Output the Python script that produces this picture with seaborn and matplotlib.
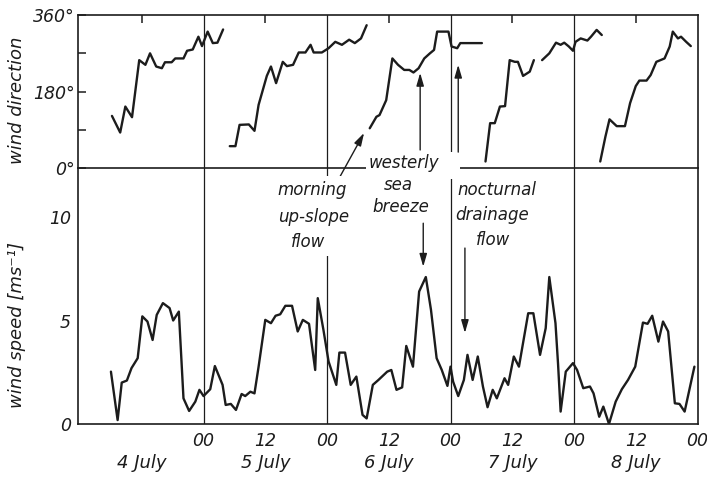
import numpy as np
import pandas as pd
import matplotlib
matplotlib.use("Agg")
import matplotlib.pyplot as plt
import seaborn as sns
from matplotlib.patches import FancyArrowPatch, Rectangle

# ---------------- data (time = hours since 4 July 00:00) ----------------
dirA_h = [6.2, 7.8, 8.8, 10.1, 11.5, 12.7, 13.6, 14.8, 15.9, 16.5, 17.8, 18.5, 20.1,
          20.8, 21.9, 23.0, 23.7, 24.8, 25.8, 26.7, 27.8]
dirA_deg = [123, 84, 145, 120, 254, 243, 270, 239, 235, 249, 249, 258, 258,
            276, 279, 309, 287, 321, 294, 295, 326]

dirB_h = [29.1, 30.2, 31.0, 32.8, 33.9, 34.7, 36.3, 37.1, 38.1, 39.4, 40.2, 41.4,
          42.5, 43.8, 44.8, 45.4, 47.0, 48.3, 49.6, 50.9, 52.3, 53.4, 54.6, 55.7]
dirB_deg = [52, 52, 102, 103, 88, 149, 217, 239, 200, 250, 240, 243,
            272, 272, 290, 272, 272, 282, 297, 290, 302, 294, 305, 336]

dirC_h = [56.3, 57.6, 58.2, 59.5, 60.7, 61.8, 63.0, 64.0, 64.8, 65.8, 66.9, 68.0,
          68.8, 69.4, 71.6, 72.2, 73.3, 73.9, 78.1]
dirC_deg = [94, 121, 125, 160, 258, 243, 231, 231, 225, 235, 258, 270,
            278, 321, 321, 286, 282, 294, 294]

dirD_h = [78.8, 79.7, 80.6, 81.6, 82.6, 83.5, 84.5, 85.1, 86.1, 87.4, 88.2]
dirD_deg = [16, 106, 106, 145, 146, 254, 250, 250, 217, 227, 254]

dirE_h = [89.8, 91.2, 92.5, 93.4, 94.1, 95.0, 95.8, 96.3, 97.3, 98.6, 99.3, 100.4, 101.4]
dirE_deg = [254, 270, 295, 290, 295, 286, 276, 297, 305, 300, 309, 325, 313]

dirF_h = [101.1, 102.1, 102.9, 104.3, 105.9, 106.9, 108.0, 108.7, 110.1, 110.9, 112.0,
          113.6, 114.6, 115.2, 116.2, 116.8, 117.8, 118.7]
dirF_deg = [16, 74, 115, 99, 99, 153, 193, 206, 206, 219, 250,
            258, 286, 321, 305, 309, 297, 287]

speed_h = [6.0, 7.3, 8.1, 9.1, 10.0, 11.2, 12.1, 13.1, 14.1, 14.9, 16.1, 17.4, 18.1, 19.2,
           20.1, 21.2, 22.4, 23.2, 24.0, 25.3, 26.2, 27.7, 28.3, 29.3, 30.3, 31.4, 32.1,
           33.1, 33.9, 34.7, 36.0, 37.1, 38.0, 38.9, 39.9, 41.2, 42.3, 43.3, 44.5, 45.7,
           46.2, 47.3, 48.3, 49.8, 50.4, 51.5, 52.6, 53.7, 54.9, 55.7, 56.9, 58.0, 59.7,
           60.5, 61.5, 62.6, 63.4, 64.7, 65.9, 67.2, 68.2, 69.3, 70.3, 71.4, 72.0, 72.5,
           73.5, 74.6, 75.3, 76.3, 77.3, 78.3, 79.2, 80.2, 81.0, 82.5, 83.2, 84.3, 85.3,
           87.1, 88.1, 89.4, 90.5, 91.2, 92.4, 92.9, 93.4, 94.4, 95.8, 96.6, 97.8, 99.1,
           99.8, 100.9, 101.7, 102.8, 104.1, 105.3, 106.5, 107.9, 109.4, 110.3, 111.2,
           112.4, 113.3, 114.3, 115.6, 116.5, 117.5, 119.4]
speed_ms = [2.53, 0.19, 2.0, 2.1, 2.7, 3.18, 5.2, 4.95, 4.06, 5.27, 5.84, 5.6, 5.0, 5.43,
            1.24, 0.63, 1.08, 1.65, 1.35, 1.68, 2.8, 1.89, 0.92, 0.97, 0.68, 1.45, 1.35,
            1.56, 1.48, 2.77, 5.03, 4.87, 5.23, 5.3, 5.71, 5.71, 4.47, 5.03, 4.84, 2.61,
            6.08, 4.55, 3.02, 1.89, 3.45, 3.45, 1.89, 2.29, 0.44, 0.27, 1.89, 2.13, 2.53,
            2.61, 1.65, 1.77, 3.77, 2.77, 6.4, 7.1, 5.52, 3.18, 2.61, 1.84, 2.77, 2.05,
            1.35, 2.13, 3.34, 2.13, 3.26, 1.81, 0.81, 1.65, 1.24, 2.21, 1.89, 3.26, 2.77,
            5.35, 5.35, 3.34, 4.63, 7.1, 4.87, 2.9, 0.6, 2.53, 2.94, 2.61, 1.73, 1.81,
            1.48, 0.35, 0.84, 0.0, 1.08, 1.68, 2.13, 2.77, 4.9, 4.84, 5.23,
            3.98, 4.95, 4.47, 1.0, 0.97, 0.6, 2.77]

day_names = ["4 July", "5 July", "6 July", "7 July", "8 July"]
hour_ticks = [12, 24, 36, 48, 60, 72, 84, 96, 108, 120]
hour_labels = ["", "00", "12", "00", "12", "00", "12", "00", "12", "00"]
dir_ticks = [0, 90, 180, 270, 360]
dir_labels = ["0°", "", "180°", "", "360°"]
speed_ticks = list(range(0, 12))
speed_labels = ["0", "", "", "", "", "5", "", "", "", "", "10", ""]

# ---------------- style ----------------
sns.set_style("white")
plt.rcParams["font.family"] = ["DejaVu Sans"]
plt.rcParams["font.style"] = "italic"
INK = "#1c1c1c"

dir_df = pd.concat([
    pd.DataFrame({"hour": h, "deg": d, "seg": s})
    for s, (h, d) in enumerate([(dirA_h, dirA_deg), (dirB_h, dirB_deg), (dirC_h, dirC_deg),
                                (dirD_h, dirD_deg), (dirE_h, dirE_deg), (dirF_h, dirF_deg)])
], ignore_index=True)
spd_df = pd.DataFrame({"hour": speed_h, "speed": speed_ms})

W, H = 707, 482
fig = plt.figure(figsize=(W / 100, H / 100), dpi=100)
fig.patch.set_facecolor("white")
L, R, TOP, MID, BOT = 78, 698, 15, 168.3, 424
ax_s = fig.add_axes([L / W, (H - BOT) / H, (R - L) / W, (BOT - MID) / H])
ax_d = fig.add_axes([L / W, (H - MID) / H, (R - L) / W, (MID - TOP) / H])

XL = (-0.4, 120.1)
SPEED_TOP = (BOT - MID) / 20.7

sns.lineplot(data=dir_df, x="hour", y="deg", units="seg", estimator=None, sort=False,
             ax=ax_d, color=INK, lw=1.7)
sns.lineplot(data=spd_df, x="hour", y="speed", estimator=None, sort=False,
             ax=ax_s, color=INK, lw=1.7)

for ax in (ax_d, ax_s):
    ax.set_xlim(*XL)
    ax.set_xlabel("")
    ax.set_ylabel("")
    ax.set_facecolor("none")
    for sp in ax.spines.values():
        sp.set_linewidth(1.2)
        sp.set_color(INK)
    for d in [24, 48, 72, 96]:
        ax.axvline(d, color=INK, lw=0.9, zorder=1)

ax_d.set_ylim(0, 360)
ax_d.set_yticks(dir_ticks)
ax_d.set_yticklabels(dir_labels)
ax_d.set_xticks([12, 36, 60, 84, 108])
ax_d.tick_params(axis="x", direction="in", top=True, bottom=False, labelbottom=False,
                 labeltop=False, length=6, width=1.1, color=INK)
ax_d.tick_params(axis="y", direction="in", left=True, length=6, width=1.1, color=INK,
                 labelsize=12.5, pad=2.5, labelcolor=INK)

ax_s.set_ylim(0, SPEED_TOP)
ax_s.spines["top"].set_visible(False)
ax_s.set_yticks(speed_ticks)
ax_s.set_yticklabels(speed_labels)
ax_s.set_xticks(hour_ticks)
ax_s.set_xticklabels(hour_labels)
ax_s.tick_params(axis="both", direction="in", length=6, width=1.1, color=INK,
                 labelsize=12.5, labelcolor=INK)
ax_s.tick_params(axis="y", pad=5)
ax_s.tick_params(axis="x", pad=6)

for i, name in enumerate(day_names):
    ax_s.text(12 + 24 * i, -0.152, name, transform=ax_s.get_xaxis_transform(),
              ha="center", va="center", fontsize=13, color=INK)

fig.text(17 / W, 1 - 100 / H, "wind direction", rotation=90, ha="center", va="center",
         fontsize=13, color=INK)
fig.text(17 / W, 1 - 325 / H, "wind speed [ms⁻¹]", rotation=90, ha="center", va="center",
         fontsize=13, color=INK)

# ---------------- annotations (figure level, drawn above axes) ----------------
def note(ax, x, y, s, box=False):
    kw = dict(transform=ax.transData, ha="center", va="center", fontsize=12,
              color=INK, zorder=5)
    if box:
        kw["bbox"] = dict(facecolor="white", edgecolor="none", pad=3.5)
    fig.text(x, y, s, **kw)

def arrow(ax, p0, p1):
    a = FancyArrowPatch(p0, p1, transform=ax.transData, arrowstyle="-|>,head_length=0.55,head_width=0.16",
                        mutation_scale=14, lw=1.0, color=INK, shrinkA=0, shrinkB=0, zorder=4)
    fig.add_artist(a)

note(ax_s, 45.1, 11.3, "morning", box=True)
note(ax_s, 45.3, 10.0, "up-slope", box=True)
note(ax_s, 44.3, 8.8, "flow", box=True)

fig.add_artist(Rectangle((55.6, -24), 18.2, 62, transform=ax_d.transData,
                         facecolor="white", edgecolor="none", zorder=3))
note(ax_d, 63.0, 12.4, "westerly")
note(ax_s, 61.8, 11.55, "sea")
note(ax_s, 62.4, 10.48, "breeze")

note(ax_s, 81.0, 11.3, "nocturnal")
note(ax_s, 80.1, 10.1, "drainage")
note(ax_s, 80.3, 8.9, "flow")

arrow(ax_d, (50.5, -20), (55.2, 83))
arrow(ax_d, (66.1, 43), (66.1, 224))
arrow(ax_d, (73.5, 38), (73.5, 243))
arrow(ax_s, (66.7, 9.7), (66.7, 7.6))
arrow(ax_s, (74.8, 8.5), (74.8, 4.4))

fig.savefig("out.png", dpi=100, facecolor="white")
